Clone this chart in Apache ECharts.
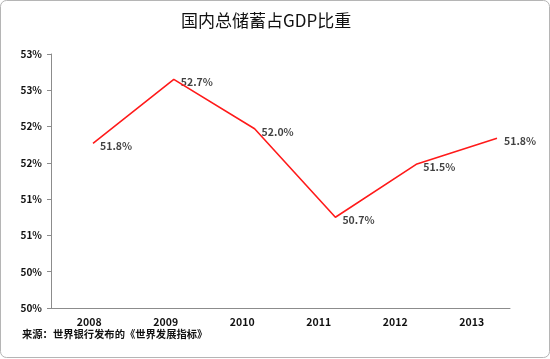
<!DOCTYPE html>
<html><head><meta charset="utf-8">
<script src="https://cdn.jsdelivr.net/npm/echarts@6/dist/echarts.min.js"></script>
<style>html,body{margin:0;padding:0;background:#fff}#c{width:550px;height:359px}</style>
</head><body><div id="c"></div>
<script>
var categories = ['2008','2009','2010','2011','2012','2013'];
var values = [52.27, 53.15, 52.47, 51.25, 51.98, 52.34];
var pointLabels = ['51.8%','52.7%','52.0%','50.7%','51.5%','51.8%'];
var yTickLabels = ['50%','50%','51%','51%','52%','52%','53%','53%'];
var titleText = '国内总储蓄占GDP比重';
var sourceText = '来源：世界银行发布的《世界发展指标》';

var chart = echarts.init(document.getElementById('c'), null, {renderer:'canvas'});
var font = '"Noto Sans CJK SC", "Liberation Sans", sans-serif';
var axisColor = '#8c8c8c';
var yMin = 50, yMax = 53.5, yInt = 0.5;
chart.setOption({
  animation: false,
  backgroundColor: '#fff',
  title: {
    text: titleText, left: 176, top: 7,
    textStyle: {fontFamily: font, fontSize: 17, fontWeight: 'normal', color: '#111'}
  },
  graphic: [
    {type:'rect', shape:{x:0.5,y:0.5,width:549,height:357,r:6}, style:{fill:'none', stroke:'#b5b5b5', lineWidth:1}, z:-1},
    {type:'text', left: 22, top: 329, style:{text: sourceText, font: 'bold 10.3px ' + font, fill:'#111'}}
  ],
  grid: [
    {left: 51, right: 40, top: 54, bottom: 51},
    {left: 93, right: 53, top: 54, bottom: 51}
  ],
  xAxis: [
    {type:'category', gridIndex:0, data: categories, boundaryGap: true,
     axisLine:{lineStyle:{color:axisColor}}, axisTick:{length:4, lineStyle:{color:axisColor}},
     axisLabel:{color:'#111', fontWeight:'bold', fontSize:10.5, fontFamily:font, margin:9}},
    {type:'category', gridIndex:1, data: categories, boundaryGap: false, show:false}
  ],
  yAxis: [
    {type:'value', gridIndex:0, min:yMin, max:yMax, interval:yInt,
     axisLine:{show:true, lineStyle:{color:axisColor}}, axisTick:{show:true, length:4, lineStyle:{color:axisColor}},
     splitLine:{show:false},
     axisLabel:{color:'#111', fontWeight:'bold', fontSize:10, fontFamily:font, margin:9,
       formatter: function(v){ var i = Math.round((v - yMin)/yInt); return yTickLabels[i]; }}},
    {type:'value', gridIndex:1, min:yMin, max:yMax, interval:yInt, show:false, splitLine:{show:false}}
  ],
  series: [{
    type:'line', xAxisIndex:1, yAxisIndex:1, data: values,
    symbol:'none',
    lineStyle:{color:'#ff1a1a', width:1.6}
  }, {
    type:'scatter', xAxisIndex:1, yAxisIndex:1, data: values,
    symbol:'circle', symbolSize:2,
    itemStyle:{color:'rgba(255,255,255,0)'},
    label:{show:true, position:'right', distance:6, offset:[0,3],
      formatter: function(p){ return pointLabels[p.dataIndex]; },
      color:'#111', fontWeight:'bold', fontSize:10.5, fontFamily:font}
  }]
});
</script></body></html>
